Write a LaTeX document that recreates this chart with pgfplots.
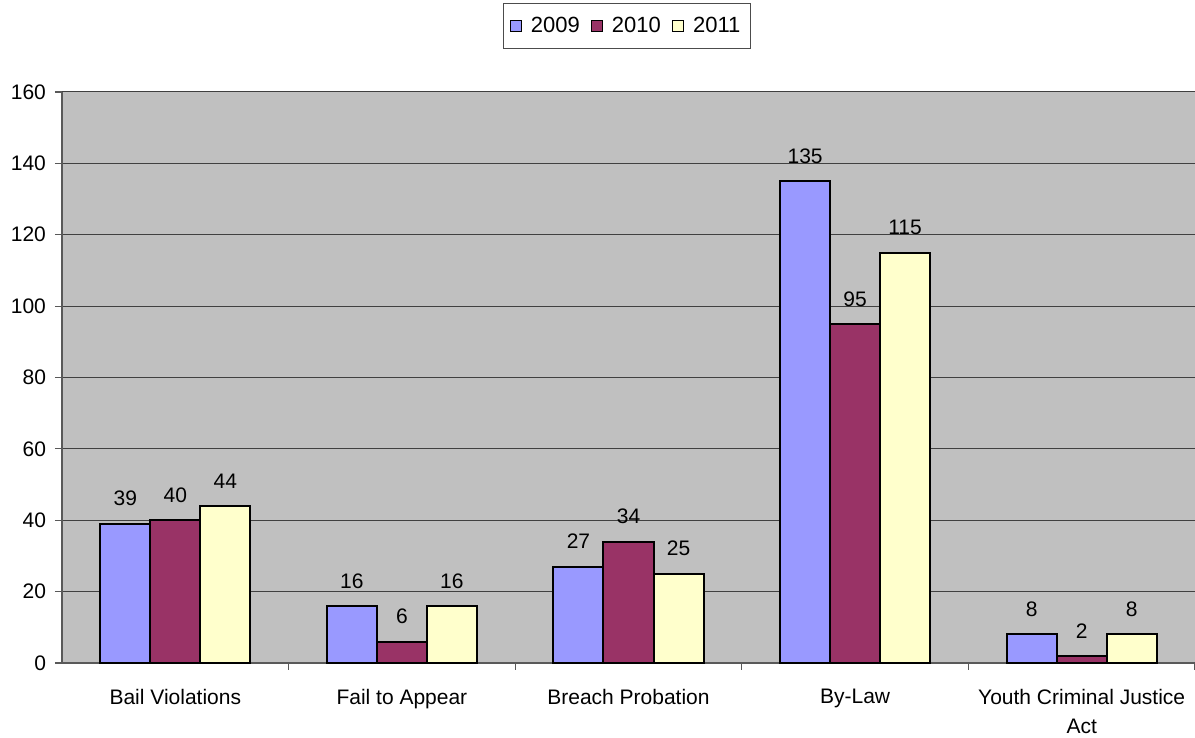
\documentclass[border=0pt]{standalone}
\usepackage{pgfplots}
\pgfplotsset{compat=1.18}
\usepackage{fontspec}
\setmainfont{Liberation Sans}
\definecolor{c2009}{HTML}{9999FF}
\definecolor{c2010}{HTML}{993366}
\definecolor{c2011}{HTML}{FFFFCC}
\definecolor{plotbg}{HTML}{C0C0C0}
\begin{document}
\begin{tikzpicture}
\begin{axis}[
  at={(31pt,37.5pt)}, anchor=south west,
  scale only axis, width=566.5pt, height=285.5pt,
  xmin=-0.5, xmax=4.5, ymin=0, ymax=160,
  axis background/.style={fill=plotbg},
  axis x line*=bottom, axis y line*=left,
  axis line style={black!65, line width=0.6pt},
  ytick={0,20,...,160},
  ymajorgrids, grid style={black!75, line width=0.5pt},
  tick align=outside, major tick length=3.5pt, minor tick length=3.5pt,
  tick style={black!65, line width=0.6pt},
  xtick={0,1,2,3,4},
  xticklabels={Bail Violations,Fail to Appear,Breach Probation,By-Law,{Youth Criminal Justice\\Act}},
  minor xtick={0.5,1.5,2.5,3.5,4.5},
  every major x tick/.append style={draw=none},
  xticklabel style={align=center, font=\fontsize{10.5}{14.5}\selectfont, yshift=-6pt},
  yticklabel style={font=\fontsize{10.5}{12}\selectfont, xshift=-1pt},
  /pgf/number format/assume math mode=true,
  ybar, bar width=0.2207,
  nodes near coords,
  every node near coord/.append style={font=\fontsize{10.5}{12}\selectfont, yshift=5pt, black},
  legend columns=-1,
  legend style={at={(0.4987,1.1156)}, anchor=center, draw=black!70,
    font=\fontsize{11}{12}\selectfont, inner xsep=3pt, inner ysep=4.5pt,
    /tikz/every even column/.append style={column sep=3.5pt},
    /tikz/every odd column/.append style={column sep=2.5pt}},
  legend image code/.code={\draw[#1,draw=black,line width=0.5pt] (0pt,-2.8pt) rectangle (5.6pt,2.8pt);},
  clip=false,
]
\addplot[fill=c2009, draw=black, line width=1pt, bar shift=-0.2207] coordinates {(0,39) (1,16) (2,27) (3,135) (4,8)};
\addplot[fill=c2010, draw=black, line width=1pt, bar shift=0] coordinates {(0,40) (1,6) (2,34) (3,95) (4,2)};
\addplot[fill=c2011, draw=black, line width=1pt, bar shift=0.2207] coordinates {(0,44) (1,16) (2,25) (3,115) (4,8)};
\legend{2009,2010,2011}
\end{axis}
\pgfresetboundingbox
\path (0,0) rectangle (597.5pt,369pt);
\end{tikzpicture}
\end{document}
